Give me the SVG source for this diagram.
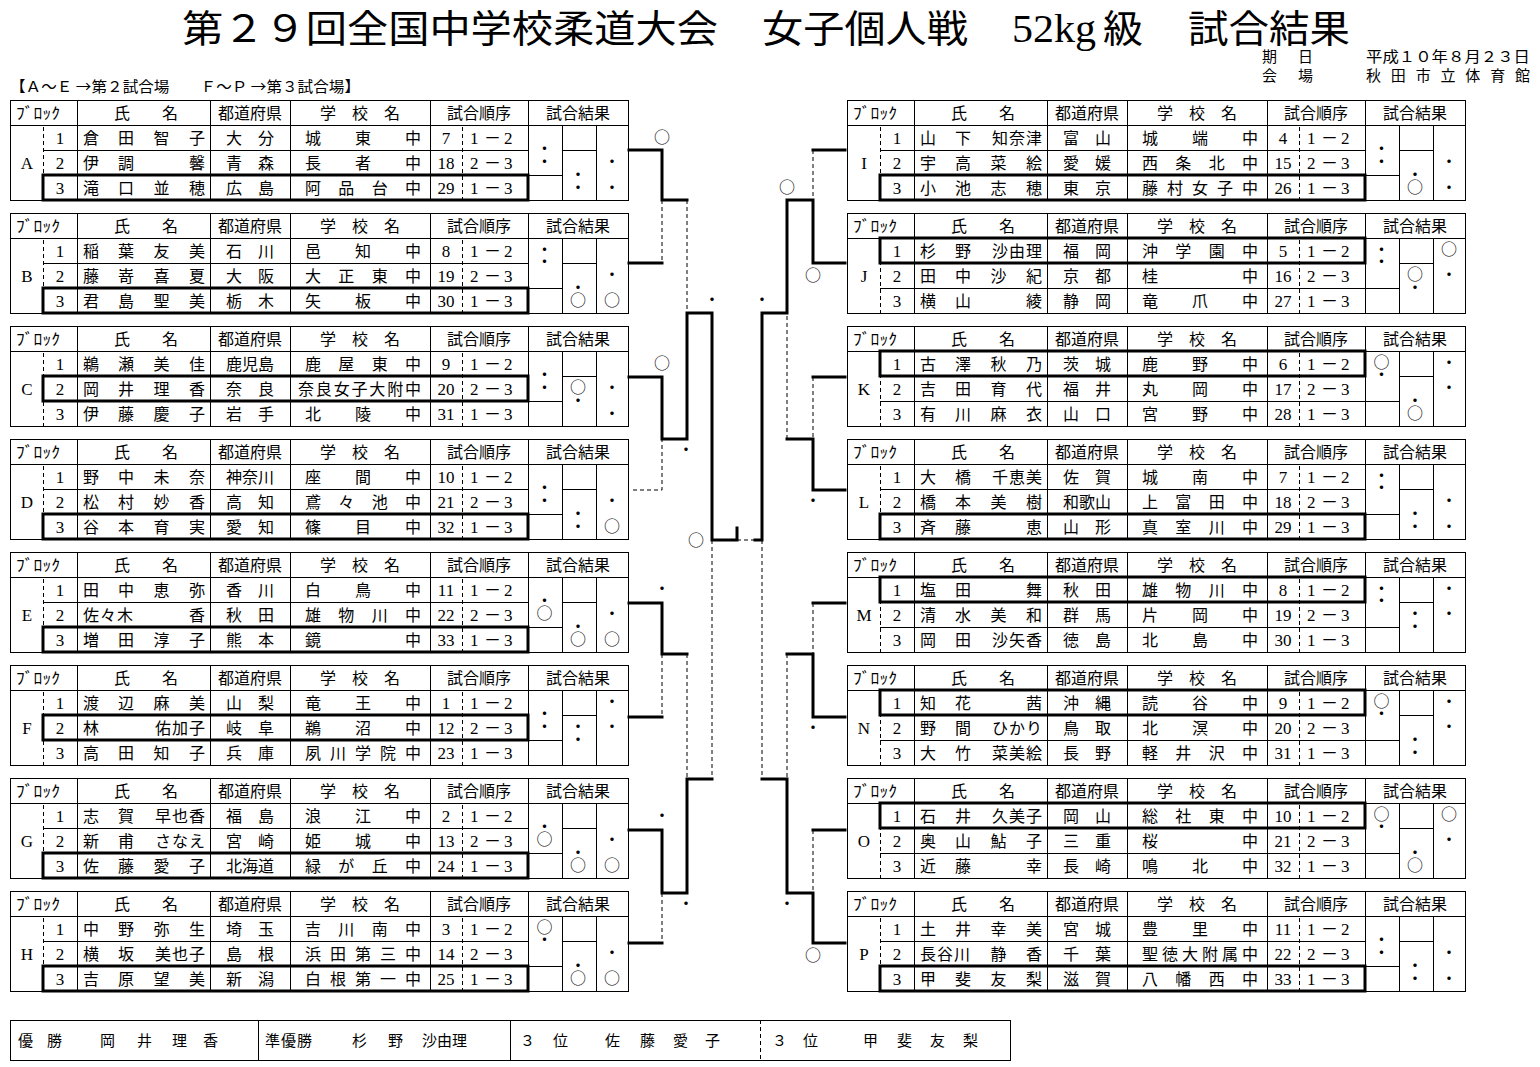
<svg xmlns="http://www.w3.org/2000/svg" xmlns:xlink="http://www.w3.org/1999/xlink" width="1540" height="1067" viewBox="0 0 1540 1067">
<style>
.ln{fill:none;stroke:#000;stroke-width:1}
.dash{fill:none;stroke:#000;stroke-width:1;stroke-dasharray:4 3}
.thk{fill:none;stroke:#000;stroke-width:3;stroke-linecap:square;stroke-linejoin:miter}
.win{fill:none;stroke:#000;stroke-width:3}
.t{font-family:"Noto Sans CJK JP","Noto Sans",sans-serif;font-size:16px;fill:#000}
.n{font-family:"Liberation Serif","Noto Sans CJK JP",serif;font-size:17px;fill:#000}
.m{text-anchor:middle}
.mk{font-family:"Noto Sans CJK JP",sans-serif;font-size:16px;text-anchor:middle;fill:#000}
.ttl{font-family:"Noto Sans CJK JP",sans-serif;font-size:38px;fill:#000}
.ttn{font-family:"Liberation Serif","Noto Sans CJK JP",serif;font-size:40px;fill:#000}
.s15{font-family:"Noto Sans CJK JP",sans-serif;font-size:15px;fill:#000}
</style>
<defs>
<g id="tpl">
<rect class="ln" x="10.5" y="0.5" width="618" height="100"/>
<path class="ln" d="M10 25.5H628M43 50.5H528M43 75.5H528M77.5 0V100M210.5 0V100M290.5 0V100M430.5 0V100M528.5 0V100M562.5 25V100M596.5 25V100M528 75.5H562M562 50.5H596"/>
<path class="dash" d="M43.5 27V100M462.5 27V100"/>
<g class="t">
<text x="16" y="18.5" textLength="44" lengthAdjust="spacingAndGlyphs">ﾌﾞﾛｯｸ</text>
<text x="114 162" y="18.5">氏名</text>
<text class="m" x="250" y="18.5">都道府県</text>
<text class="m" x="360" y="18.5">学　校　名</text>
<text class="m" x="479" y="18.5">試合順序</text>
<text class="m" x="578" y="18.5">試合結果</text>
</g>
<g class="n m"><text x="60" y="43.5">1</text><text x="60" y="68.5">2</text><text x="60" y="93.5">3</text></g>
<g class="n"><text x="470 484 504" y="43.5">1－2</text><text x="470 484 504" y="68.5">2－3</text><text x="470 484 504" y="93.5">1－3</text></g>
</g>
</defs>
<rect width="1540" height="1067" fill="#fff"/>

<g id="title">
<text class="ttl" x="182" y="42" textLength="536" lengthAdjust="spacingAndGlyphs">第２９回全国中学校柔道大会</text>
<text class="ttl" x="762" y="42" textLength="206" lengthAdjust="spacingAndGlyphs">女子個人戦</text>
<text class="ttn" x="1012" y="42" textLength="84" lengthAdjust="spacingAndGlyphs">52kg</text>
<text class="ttl" x="1103" y="42" textLength="40" lengthAdjust="spacingAndGlyphs">級</text>
<text class="ttl" x="1188" y="42" textLength="162" lengthAdjust="spacingAndGlyphs">試合結果</text>
<text class="s15" x="1262 1298" y="62">期日</text>
<text class="s15" x="1366" y="62" textLength="164" lengthAdjust="spacingAndGlyphs">平成１０年８月２３日</text>
<text class="s15" x="1262 1298" y="80.5">会場</text>
<text class="s15" x="1366" y="80.5" textLength="164" lengthAdjust="spacing">秋田市立体育館</text>
<text class="s15" x="10" y="92" font-size="14" textLength="350" lengthAdjust="spacingAndGlyphs">【Ａ～Ｅ →第２試合場　　Ｆ～Ｐ →第３試合場】</text>
</g>

<g id="block-A" transform="translate(0,100)"><use href="#tpl"/>
<text class="n m" x="27" y="68.5">A</text>
<g class="t">
<text x="83 118 153.5 189" y="43.5">倉田智子</text><text x="226 258" y="43.5">大分</text><text x="305 355 405" y="43.5">城東中</text>
<text x="83 118 189" y="68.5">伊調馨</text><text x="226 258" y="68.5">青森</text><text x="305 355 405" y="68.5">長者中</text>
<text x="83 118 153.5 189" y="93.5">滝口並穂</text><text x="226 258" y="93.5">広島</text><text x="305 338.3 371.7 405" y="93.5">阿品台中</text>
</g>
<g class="n m"><text x="446" y="43.5">7</text><text x="446" y="68.5">18</text><text x="446" y="93.5">29</text></g>
<rect class="win" x="43" y="75" width="485" height="25"/>
<text class="mk" x="544.5 544.5 578 578 612 612" y="54 66.5 79.5 92.5 67 92.5">・・・・・・</text>
</g>

<g id="block-B" transform="translate(0,213)"><use href="#tpl"/>
<text class="n m" x="27" y="68.5">B</text>
<g class="t">
<text x="83 118 153.5 189" y="43.5">稲葉友美</text><text x="226 258" y="43.5">石川</text><text x="305 355 405" y="43.5">邑知中</text>
<text x="83 118 153.5 189" y="68.5">藤嵜喜夏</text><text x="226 258" y="68.5">大阪</text><text x="305 338.3 371.7 405" y="68.5">大正東中</text>
<text x="83 118 153.5 189" y="93.5">君島聖美</text><text x="226 258" y="93.5">栃木</text><text x="305 355 405" y="93.5">矢板中</text>
</g>
<g class="n m"><text x="446" y="43.5">8</text><text x="446" y="68.5">19</text><text x="446" y="93.5">30</text></g>
<rect class="win" x="43" y="75" width="485" height="25"/>
<text class="mk" x="544.5 544.5 578 578 612 612" y="42 54 79.5 92.5 67 92.5">・・・○・○</text>
</g>

<g id="block-C" transform="translate(0,326)"><use href="#tpl"/>
<text class="n m" x="27" y="68.5">C</text>
<g class="t">
<text x="83 118 153.5 189" y="43.5">鵜瀬美佳</text><text x="226 242 258" y="43.5">鹿児島</text><text x="305 338.3 371.7 405" y="43.5">鹿屋東中</text>
<text x="83 118 153.5 189" y="68.5">岡井理香</text><text x="226 258" y="68.5">奈良</text><text x="298 315.8 333.7 351.5 369.3 387.2 405" y="68.5">奈良女子大附中</text>
<text x="83 118 153.5 189" y="93.5">伊藤慶子</text><text x="226 258" y="93.5">岩手</text><text x="305 355 405" y="93.5">北陵中</text>
</g>
<g class="n m"><text x="446" y="43.5">9</text><text x="446" y="68.5">20</text><text x="446" y="93.5">31</text></g>
<rect class="win" x="43" y="50" width="485" height="25"/>
<text class="mk" x="544.5 544.5 578 578 612 612" y="54 66.5 67 79.5 67 92.5">・・○・・・</text>
</g>

<g id="block-D" transform="translate(0,439)"><use href="#tpl"/>
<text class="n m" x="27" y="68.5">D</text>
<g class="t">
<text x="83 118 153.5 189" y="43.5">野中未奈</text><text x="226 242 258" y="43.5">神奈川</text><text x="305 355 405" y="43.5">座間中</text>
<text x="83 118 153.5 189" y="68.5">松村妙香</text><text x="226 258" y="68.5">高知</text><text x="305 338.3 371.7 405" y="68.5">鳶々池中</text>
<text x="83 118 153.5 189" y="93.5">谷本育実</text><text x="226 258" y="93.5">愛知</text><text x="305 355 405" y="93.5">篠目中</text>
</g>
<g class="n m"><text x="446" y="43.5">10</text><text x="446" y="68.5">21</text><text x="446" y="93.5">32</text></g>
<rect class="win" x="43" y="75" width="485" height="25"/>
<text class="mk" x="544.5 544.5 578 578 612 612" y="54 66.5 79.5 92.5 67 92.5">・・・・・○</text>
</g>

<g id="block-E" transform="translate(0,552)"><use href="#tpl"/>
<text class="n m" x="27" y="68.5">E</text>
<g class="t">
<text x="83 118 153.5 189" y="43.5">田中恵弥</text><text x="226 258" y="43.5">香川</text><text x="305 355 405" y="43.5">白鳥中</text>
<text x="83 100 117 189" y="68.5">佐々木香</text><text x="226 258" y="68.5">秋田</text><text x="305 338.3 371.7 405" y="68.5">雄物川中</text>
<text x="83 118 153.5 189" y="93.5">増田淳子</text><text x="226 258" y="93.5">熊本</text><text x="305 405" y="93.5">鏡中</text>
</g>
<g class="n m"><text x="446" y="43.5">11</text><text x="446" y="68.5">22</text><text x="446" y="93.5">33</text></g>
<rect class="win" x="43" y="75" width="485" height="25"/>
<text class="mk" x="544.5 544.5 578 578 612 612" y="54 66.5 79.5 92.5 67 92.5">・○・○・○</text>
</g>

<g id="block-F" transform="translate(0,665)"><use href="#tpl"/>
<text class="n m" x="27" y="68.5">F</text>
<g class="t">
<text x="83 118 153.5 189" y="43.5">渡辺麻美</text><text x="226 258" y="43.5">山梨</text><text x="305 355 405" y="43.5">竜王中</text>
<text x="83 155 172 189" y="68.5">林佑加子</text><text x="226 258" y="68.5">岐阜</text><text x="305 355 405" y="68.5">鵜沼中</text>
<text x="83 118 153.5 189" y="93.5">高田知子</text><text x="226 258" y="93.5">兵庫</text><text x="305 330 355 380 405" y="93.5">夙川学院中</text>
</g>
<g class="n m"><text x="446" y="43.5">1</text><text x="446" y="68.5">12</text><text x="446" y="93.5">23</text></g>
<rect class="win" x="43" y="50" width="485" height="25"/>
<text class="mk" x="544.5 544.5 578 578 612 612" y="54 66.5 67 79.5 42 67">・・・・・・</text>
</g>

<g id="block-G" transform="translate(0,778)"><use href="#tpl"/>
<text class="n m" x="27" y="68.5">G</text>
<g class="t">
<text x="83 118 155 172 189" y="43.5">志賀早也香</text><text x="226 258" y="43.5">福島</text><text x="305 355 405" y="43.5">浪江中</text>
<text x="83 118 155 172 189" y="68.5">新甫さなえ</text><text x="226 258" y="68.5">宮崎</text><text x="305 355 405" y="68.5">姫城中</text>
<text x="83 118 153.5 189" y="93.5">佐藤愛子</text><text x="226 242 258" y="93.5">北海道</text><text x="305 338.3 371.7 405" y="93.5">緑が丘中</text>
</g>
<g class="n m"><text x="446" y="43.5">2</text><text x="446" y="68.5">13</text><text x="446" y="93.5">24</text></g>
<rect class="win" x="43" y="75" width="485" height="25"/>
<text class="mk" x="544.5 544.5 578 578 612 612" y="54 66.5 79.5 92.5 67 92.5">・○・○・○</text>
</g>

<g id="block-H" transform="translate(0,891)"><use href="#tpl"/>
<text class="n m" x="27" y="68.5">H</text>
<g class="t">
<text x="83 118 153.5 189" y="43.5">中野弥生</text><text x="226 258" y="43.5">埼玉</text><text x="305 338.3 371.7 405" y="43.5">吉川南中</text>
<text x="83 118 155 172 189" y="68.5">横坂美也子</text><text x="226 258" y="68.5">島根</text><text x="305 330 355 380 405" y="68.5">浜田第三中</text>
<text x="83 118 153.5 189" y="93.5">吉原望美</text><text x="226 258" y="93.5">新潟</text><text x="305 330 355 380 405" y="93.5">白根第一中</text>
</g>
<g class="n m"><text x="446" y="43.5">3</text><text x="446" y="68.5">14</text><text x="446" y="93.5">25</text></g>
<rect class="win" x="43" y="75" width="485" height="25"/>
<text class="mk" x="544.5 544.5 578 578 612 612" y="42 54 79.5 92.5 67 92.5">○・・○・○</text>
</g>

<g id="block-I" transform="translate(837,100)"><use href="#tpl"/>
<text class="n m" x="27" y="68.5">I</text>
<g class="t">
<text x="83 118 155 172 189" y="43.5">山下知奈津</text><text x="226 258" y="43.5">富山</text><text x="305 355 405" y="43.5">城端中</text>
<text x="83 118 153.5 189" y="68.5">宇高菜絵</text><text x="226 258" y="68.5">愛媛</text><text x="305 338.3 371.7 405" y="68.5">西条北中</text>
<text x="83 118 153.5 189" y="93.5">小池志穂</text><text x="226 258" y="93.5">東京</text><text x="305 330 355 380 405" y="93.5">藤村女子中</text>
</g>
<g class="n m"><text x="446" y="43.5">4</text><text x="446" y="68.5">15</text><text x="446" y="93.5">26</text></g>
<rect class="win" x="43" y="75" width="485" height="25"/>
<text class="mk" x="544.5 544.5 578 578 612 612" y="54 66.5 79.5 92.5 67 92.5">・・・○・・</text>
</g>

<g id="block-J" transform="translate(837,213)"><use href="#tpl"/>
<text class="n m" x="27" y="68.5">J</text>
<g class="t">
<text x="83 118 155 172 189" y="43.5">杉野沙由理</text><text x="226 258" y="43.5">福岡</text><text x="305 338.3 371.7 405" y="43.5">沖学園中</text>
<text x="83 118 153.5 189" y="68.5">田中沙紀</text><text x="226 258" y="68.5">京都</text><text x="305 405" y="68.5">桂中</text>
<text x="83 118 189" y="93.5">横山綾</text><text x="226 258" y="93.5">静岡</text><text x="305 355 405" y="93.5">竜爪中</text>
</g>
<g class="n m"><text x="446" y="43.5">5</text><text x="446" y="68.5">16</text><text x="446" y="93.5">27</text></g>
<rect class="win" x="43" y="25" width="485" height="25"/>
<text class="mk" x="544.5 544.5 578 578 612 612" y="42 54 67 79.5 42 67">・・○・○・</text>
</g>

<g id="block-K" transform="translate(837,326)"><use href="#tpl"/>
<text class="n m" x="27" y="68.5">K</text>
<g class="t">
<text x="83 118 153.5 189" y="43.5">古澤秋乃</text><text x="226 258" y="43.5">茨城</text><text x="305 355 405" y="43.5">鹿野中</text>
<text x="83 118 153.5 189" y="68.5">吉田育代</text><text x="226 258" y="68.5">福井</text><text x="305 355 405" y="68.5">丸岡中</text>
<text x="83 118 153.5 189" y="93.5">有川麻衣</text><text x="226 258" y="93.5">山口</text><text x="305 355 405" y="93.5">宮野中</text>
</g>
<g class="n m"><text x="446" y="43.5">6</text><text x="446" y="68.5">17</text><text x="446" y="93.5">28</text></g>
<rect class="win" x="43" y="25" width="485" height="25"/>
<text class="mk" x="544.5 544.5 578 578 612 612" y="42 54 79.5 92.5 42 67">○・・○・・</text>
</g>

<g id="block-L" transform="translate(837,439)"><use href="#tpl"/>
<text class="n m" x="27" y="68.5">L</text>
<g class="t">
<text x="83 118 155 172 189" y="43.5">大橋千恵美</text><text x="226 258" y="43.5">佐賀</text><text x="305 355 405" y="43.5">城南中</text>
<text x="83 118 153.5 189" y="68.5">橋本美樹</text><text x="226 242 258" y="68.5">和歌山</text><text x="305 338.3 371.7 405" y="68.5">上富田中</text>
<text x="83 118 189" y="93.5">斉藤恵</text><text x="226 258" y="93.5">山形</text><text x="305 338.3 371.7 405" y="93.5">真室川中</text>
</g>
<g class="n m"><text x="446" y="43.5">7</text><text x="446" y="68.5">18</text><text x="446" y="93.5">29</text></g>
<rect class="win" x="43" y="75" width="485" height="25"/>
<text class="mk" x="544.5 544.5 578 578 612 612" y="42 54 79.5 92.5 67 92.5">・・・・・・</text>
</g>

<g id="block-M" transform="translate(837,552)"><use href="#tpl"/>
<text class="n m" x="27" y="68.5">M</text>
<g class="t">
<text x="83 118 189" y="43.5">塩田舞</text><text x="226 258" y="43.5">秋田</text><text x="305 338.3 371.7 405" y="43.5">雄物川中</text>
<text x="83 118 153.5 189" y="68.5">清水美和</text><text x="226 258" y="68.5">群馬</text><text x="305 355 405" y="68.5">片岡中</text>
<text x="83 118 155 172 189" y="93.5">岡田沙矢香</text><text x="226 258" y="93.5">徳島</text><text x="305 355 405" y="93.5">北島中</text>
</g>
<g class="n m"><text x="446" y="43.5">8</text><text x="446" y="68.5">19</text><text x="446" y="93.5">30</text></g>
<rect class="win" x="43" y="25" width="485" height="25"/>
<text class="mk" x="544.5 544.5 578 578 612 612" y="42 54 67 79.5 42 67">・・・・・・</text>
</g>

<g id="block-N" transform="translate(837,665)"><use href="#tpl"/>
<text class="n m" x="27" y="68.5">N</text>
<g class="t">
<text x="83 118 189" y="43.5">知花茜</text><text x="226 258" y="43.5">沖縄</text><text x="305 355 405" y="43.5">読谷中</text>
<text x="83 118 155 172 189" y="68.5">野間ひかり</text><text x="226 258" y="68.5">鳥取</text><text x="305 355 405" y="68.5">北溟中</text>
<text x="83 118 155 172 189" y="93.5">大竹菜美絵</text><text x="226 258" y="93.5">長野</text><text x="305 338.3 371.7 405" y="93.5">軽井沢中</text>
</g>
<g class="n m"><text x="446" y="43.5">9</text><text x="446" y="68.5">20</text><text x="446" y="93.5">31</text></g>
<rect class="win" x="43" y="25" width="485" height="25"/>
<text class="mk" x="544.5 544.5 578 578 612 612" y="42 54 79.5 92.5 42 67">○・・・・・</text>
</g>

<g id="block-O" transform="translate(837,778)"><use href="#tpl"/>
<text class="n m" x="27" y="68.5">O</text>
<g class="t">
<text x="83 118 155 172 189" y="43.5">石井久美子</text><text x="226 258" y="43.5">岡山</text><text x="305 338.3 371.7 405" y="43.5">総社東中</text>
<text x="83 118 153.5 189" y="68.5">奥山鮎子</text><text x="226 258" y="68.5">三重</text><text x="305 405" y="68.5">桜中</text>
<text x="83 118 189" y="93.5">近藤幸</text><text x="226 258" y="93.5">長崎</text><text x="305 355 405" y="93.5">鳴北中</text>
</g>
<g class="n m"><text x="446" y="43.5">10</text><text x="446" y="68.5">21</text><text x="446" y="93.5">32</text></g>
<rect class="win" x="43" y="25" width="485" height="25"/>
<text class="mk" x="544.5 544.5 578 578 612 612" y="42 54 79.5 92.5 42 67">○・・○○・</text>
</g>

<g id="block-P" transform="translate(837,891)"><use href="#tpl"/>
<text class="n m" x="27" y="68.5">P</text>
<g class="t">
<text x="83 118 153.5 189" y="43.5">土井幸美</text><text x="226 258" y="43.5">宮城</text><text x="305 355 405" y="43.5">豊里中</text>
<text x="83 100 117 153.5 189" y="68.5">長谷川静香</text><text x="226 258" y="68.5">千葉</text><text x="305 325 345 365 385 405" y="68.5">聖徳大附属中</text>
<text x="83 118 153.5 189" y="93.5">甲斐友梨</text><text x="226 258" y="93.5">滋賀</text><text x="305 338.3 371.7 405" y="93.5">八幡西中</text>
</g>
<g class="n m"><text x="446" y="43.5">11</text><text x="446" y="68.5">22</text><text x="446" y="93.5">33</text></g>
<rect class="win" x="43" y="75" width="485" height="25"/>
<text class="mk" x="544.5 544.5 578 578 612 612" y="54 66.5 79.5 92.5 67 92.5">・・・・・・</text>
</g>

<g id="connectors">
<path class="thk" d="M629 150H662V200H687M629 263H662M629 377H662V439H687V313H712V540H737V528M629 603H662V654H687M629 717H662M629 830H662V893H687V779H712M629 943H662M755 540H762V313H787V200H813V263H845M845 150H813M845 377H813M845 490H813V439H787M762 779H787V893H813V943H845M845 603H813M845 717H813V654H787M845 830H813"/>
<path class="dash" d="M662 200V263M633 490H662V439M687 200V313M662 654V717M687 654V779M662 893V943M712 540V779M737 540H755M813 150V200M813 377V439M787 439V313M762 540V779M813 603V654M787 654V779M813 830V893"/>
<g class="mk">
<text x="662" y="143">○</text>
<text x="662" y="369">○</text>
<text x="696" y="546">○</text>
<text x="787" y="193">○</text>
<text x="813" y="281">○</text>
<text x="813" y="961">○</text>
<text x="712" y="305">・</text>
<text x="762" y="305">・</text>
<text x="686" y="455">・</text>
<text x="662" y="594">・</text>
<text x="662" y="821">・</text>
<text x="686" y="909">・</text>
<text x="813" y="506">・</text>
<text x="813" y="733">・</text>
<text x="787" y="909">・</text>
</g>
</g>

<g id="summary">
<rect class="ln" x="10.5" y="1020.5" width="1000" height="40"/>
<path class="ln" d="M258.5 1020V1060M510.5 1020V1060"/>
<path class="dash" d="M760.5 1020V1060"/>
<g class="s15">
<text x="18 47" y="1046">優勝</text>
<text x="100 137 172 203" y="1046">岡井理香</text>
<text x="265 281 297" y="1046">準優勝</text>
<text x="352 388 422 437 452" y="1046">杉野沙由理</text>
<text x="520 553" y="1046">３位</text>
<text x="605 640 673 705" y="1046">佐藤愛子</text>
<text x="772 803" y="1046">３位</text>
<text x="863 897 930 963" y="1046">甲斐友梨</text>
</g>
</g>
</svg>
